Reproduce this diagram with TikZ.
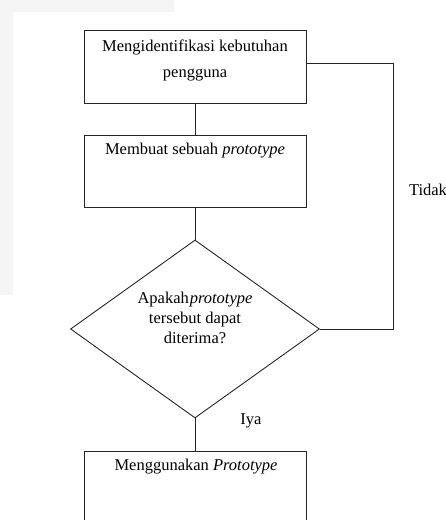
\documentclass[tikz,border=0pt]{standalone}
\usepackage{fontspec}
\setmainfont{Liberation Serif}
\usetikzlibrary{shapes.geometric}
\begin{document}
\begin{tikzpicture}[x=1pt,y=-1pt,
  line/.style={draw=black!85,line width=0.9pt},
  procbox/.style={line,rectangle,minimum width=222pt,inner sep=0pt},
  decision/.style={line,diamond,minimum width=249pt,minimum height=178pt,inner sep=0pt},
  txt/.style={font=\fontsize{16.5}{20}\selectfont,inner sep=0pt,align=center}]
\useasboundingbox (0,0) rectangle (446,520);
\clip (0,0) rectangle (446,520);
% background watermark band
\fill[black!4] (0,0) -- (174,0) -- (174,12) -- (13,12) -- (13,295) -- (0,295) -- cycle;
% boxes
\node[procbox,minimum height=73pt] (b1) at (195,66.5) {};
\node[procbox,minimum height=72pt] (b2) at (195,171) {};
\node[decision] (d) at (195,329) {};
\node[procbox,minimum height=90pt] (b3) at (195.5,496) {};
% texts
\node[txt] (t1a) at (195,47) {Mengidentifikasi kebutuhan};
\node[txt] (t1b) at (195,75) {pengguna};
\node[txt] (t2) at (195,151) {Membuat sebuah \textit{prototype}};
\node[txt] (td) at (195,318) {Apakah\hspace{1pt}\textit{prototype}\\tersebut dapat\\diterima?};
\node[txt] (t3) at (196,467) {Menggunakan \textit{Prototype}};
\node[txt] (tidak) at (428,190) {Tidak};
\node[txt] (iya) at (251,421) {Iya};
% connectors
\draw[line] (b1.south) -- (b2.north);
\draw[line] (b2.south) -- (d.north);
\draw[line] (d.south) -- (d.south |- b3.north);
\coordinate (c1) at (393,329);
\coordinate (c2) at (393,63);
\draw[line] (d.east) -- (c1) -- (c2) -- (b1.east |- c2);
\end{tikzpicture}
\end{document}
